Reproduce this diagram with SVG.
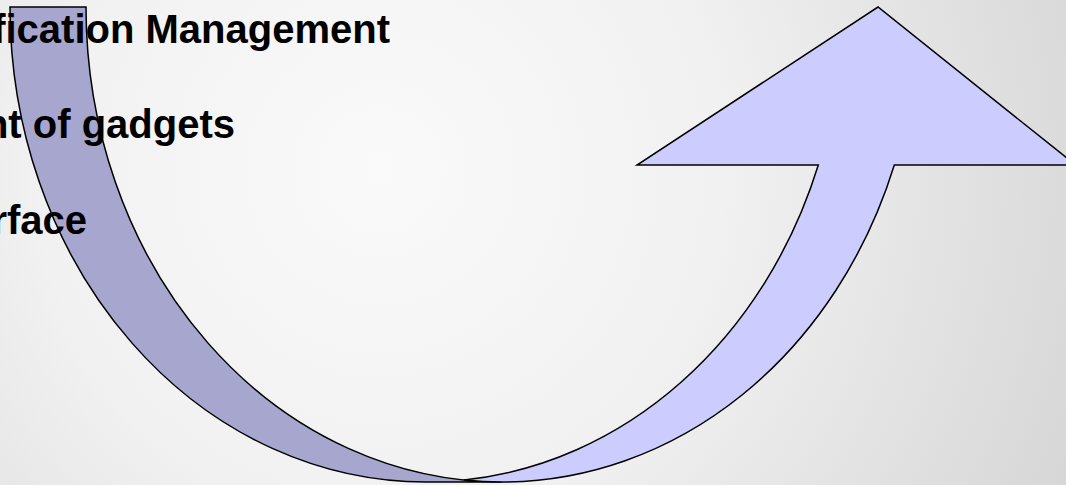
<svg xmlns="http://www.w3.org/2000/svg" width="1066" height="485" viewBox="0 0 1066 485">
  <defs>
    <radialGradient id="bg" cx="380" cy="170" r="760" gradientUnits="userSpaceOnUse">
      <stop offset="0" stop-color="#fafafa"/>
      <stop offset="0.45" stop-color="#f1f1f1"/>
      <stop offset="1" stop-color="#d6d6d6"/>
    </radialGradient>
  </defs>
  <style>
    .band { stroke: #000; stroke-width: 1.5; stroke-linejoin: miter; }
    .back { fill: #A6A6CE; }
    .front { fill: #CCCCFF; }
    .label { font-family: "Liberation Sans", Arial, sans-serif; font-weight: bold; font-size: 40px; fill: #000; text-anchor: end; }
  </style>
  <rect x="0" y="0" width="1066" height="485" fill="url(#bg)"/>
  <g id="curved-arrow">
    <path class="band back" d="M 10,7 A 416 475 0 0 0 426,482 L 502,482 A 416 475 0 0 1 86,7 Z"/>
    <path class="band front" d="M 464,480 A 416 475 0 0 0 818.3,165 L 637,165 L 878,7 L 1075.6,165 L 894.3,165 A 416 475 0 0 1 502,482 A 416 475 0 0 1 464,480 Z"/>
  </g>
  <g id="text-lines">
    <text class="label" x="390" y="43">fication Management</text>
    <text class="label" x="235" y="138">nt of gadgets</text>
    <text class="label" x="87" y="234">rface</text>
  </g>
</svg>
